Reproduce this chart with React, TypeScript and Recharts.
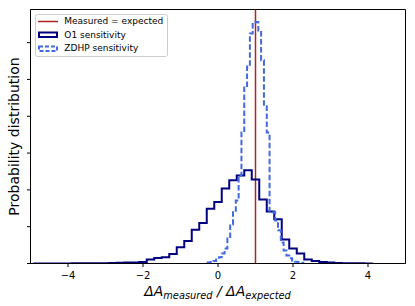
import React from "react";
import { LineChart, Line, XAxis, YAxis, ReferenceLine, ReferenceArea } from "recharts";

// O1 sensitivity histogram: bin edges and densities
const o1Edges = [
  -4.9, -4.7, -4.5, -4.3, -4.1, -3.9, -3.7,
  -3.5, -3.3, -3.1, -2.9, -2.7, -2.5, -2.3, -2.1, -1.9, -1.7, -1.5, -1.3, -1.1, -0.9, -0.7,
  -0.5, -0.3, -0.1, 0.1, 0.3, 0.5, 0.7, 0.9, 1.1, 1.3, 1.5, 1.7, 1.9, 2.1, 2.3, 2.5, 2.7,
  2.9, 3.1, 3.3, 3.5, 3.7, 3.9, 4.1,
];
const o1Values = [
  0.002, 0.002, 0.003, 0.003, 0.003, 0.004, 0.004,
  0.005, 0.008, 0.01, 0.012, 0.018, 0.025, 0.03, 0.04, 0.11, 0.15, 0.17, 0.26, 0.44, 0.61,
  0.92, 1.1, 1.49, 1.67, 2.04, 2.26, 2.39, 2.53, 2.28, 1.74, 1.41, 1.2, 0.65, 0.41, 0.27,
  0.11, 0.07, 0.04, 0.025, 0.015, 0.01, 0.008, 0.005, 0.003,
];

// ZDHP sensitivity histogram: bin edges and densities
const zdhpEdges = [
  -0.275, -0.2, -0.125, -0.05, 0.025, 0.1, 0.175, 0.25, 0.325, 0.4, 0.475, 0.55, 0.625, 0.7,
  0.775, 0.85, 0.925, 1.0, 1.075, 1.15, 1.225, 1.3, 1.375, 1.45, 1.525, 1.6, 1.675, 1.75,
  1.825, 1.9, 1.975, 2.05, 2.125, 2.2, 2.275,
];
const zdhpValues = [
  0.03, 0.04, 0.07, 0.11, 0.17, 0.27, 0.41, 0.68, 1.06, 1.39, 1.71, 2.39, 3.56, 4.78, 5.35,
  6.25, 6.55, 6.56, 6.33, 5.52, 4.27, 3.56, 1.41, 1.39, 1.17, 0.9, 0.57, 0.35, 0.22, 0.14,
  0.08, 0.05, 0.035, 0.02,
];

const xTicks = [-4, -2, 0, 2, 4];
const yTicks = [0, 1, 2, 3, 4, 5, 6];
const expectedRatio = 1;

const legendLabels = ["Measured = expected", "O1 sensitivity", "ZDHP sensitivity"];
const yLabel = "Probability distribution";

function stepPoints(edges: number[], values: number[]) {
  const pts: { x: number; y: number }[] = [{ x: edges[0], y: 0 }];
  values.forEach((v, i) => pts.push({ x: edges[i], y: v }));
  pts.push({ x: edges[edges.length - 1], y: 0 });
  return pts;
}

const o1Data = stepPoints(o1Edges, o1Values);
const zdhpData = stepPoints(zdhpEdges, zdhpValues);

const FONT = "DejaVu Sans";
const RED = "#b22222";
const NAVY = "#000080";
const ROYAL = "#4169e1";

const fmt = (v: number) => (v < 0 ? "\u2212" + Math.abs(v) : String(v));

function Overlay() {
  return (
    <svg
      width={415}
      height={306}
      style={{ position: "absolute", left: 0, top: 0, pointerEvents: "none" }}
    >
      <rect x={35.5} y={14.5} width={132} height={42} rx={2} fill="#fff" fillOpacity={0.8} stroke="#cccccc" strokeWidth={1} />
      <line x1={38} x2={58} y1={21.5} y2={21.5} stroke={RED} strokeWidth={1.5} />
      <text x={64.3} y={24} fontSize={9} fontFamily={FONT} fill="#000">{legendLabels[0]}</text>
      <rect x={39} y={32.5} width={18} height={4.5} fill="none" stroke={NAVY} strokeWidth={2} />
      <text x={64.3} y={37.5} fontSize={9} fontFamily={FONT} fill="#000">{legendLabels[1]}</text>
      <rect x={39} y={46.5} width={18} height={4.5} fill="none" stroke={ROYAL} strokeWidth={2} strokeDasharray="4 2" />
      <text x={64.3} y={51} fontSize={9} fontFamily={FONT} fill="#000">{legendLabels[2]}</text>
      <text
        x={19}
        y={136.5}
        transform="rotate(-90 19 136.5)"
        textAnchor="middle"
        fontSize={14}
        fontFamily={FONT}
        fill="#000"
      >
        {yLabel}
      </text>
      <text x={217.5} y={295.5} textAnchor="middle" fontFamily={FONT} fill="#000" fontStyle="italic">
        <tspan fontSize={14}>ΔA</tspan>
        <tspan fontSize={9.8} dy={3}>measured</tspan>
        <tspan fontSize={14} dy={-3}> / ΔA</tspan>
        <tspan fontSize={9.8} dy={3}>expected</tspan>
      </text>
    </svg>
  );
}

export default function App() {
  return (
    <div style={{ position: "absolute", left: 0, top: 0, width: 415, height: 306, background: "#fff" }}>
      <LineChart width={415} height={306} margin={{ top: 9.5, right: 9.5, bottom: 12.5, left: 10.5 }}>
        <XAxis
          type="number"
          dataKey="x"
          domain={[-5, 5]}
          ticks={xTicks}
          allowDataOverflow
          height={30}
          tickSize={3.5}
          tickMargin={4.5}
          stroke="#000"
          tickFormatter={fmt}
          tick={{ fill: "#000", fontSize: 10, fontFamily: FONT }}
        />
        <YAxis
          type="number"
          domain={[0, 6.9]}
          ticks={yTicks}
          allowDataOverflow
          width={20}
          tickSize={3.5}
          tickFormatter={() => ""}
          stroke="#000"
        />
        <ReferenceArea x1={-5} x2={5} y1={0} y2={6.9} fill="none" stroke="#000" strokeWidth={1} />
        <ReferenceLine x={expectedRatio} stroke={RED} strokeWidth={1.5} />
        <Line
          data={o1Data}
          dataKey="y"
          type="stepAfter"
          stroke={NAVY}
          strokeWidth={2}
          dot={false}
          activeDot={false}
          isAnimationActive={false}
        />
        <Line
          data={zdhpData}
          dataKey="y"
          type="stepAfter"
          stroke={ROYAL}
          strokeWidth={2}
          strokeDasharray="5.5 2.5"
          dot={false}
          activeDot={false}
          isAnimationActive={false}
        />
      </LineChart>
      <Overlay />
    </div>
  );
}
